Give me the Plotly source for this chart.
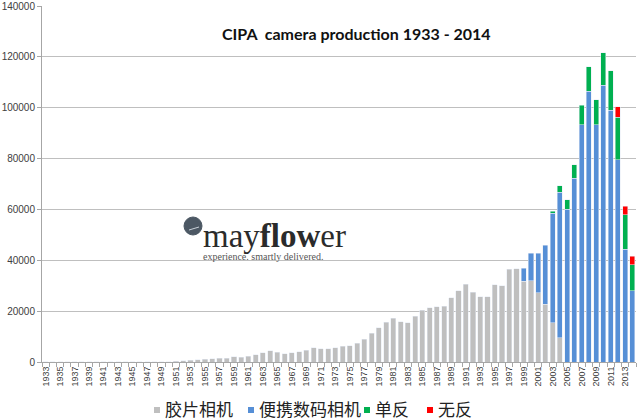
import plotly.graph_objects as go

years = list(range(1933, 2015))

film = [50, 60, 70, 80, 90, 100, 100, 90, 80, 60, 40, 20, 10, 40, 70, 100, 130, 170,
        260, 400, 650, 900, 1050, 1300, 1570, 1440, 2100, 1960, 2350, 2900, 3660, 4440,
        3800, 3270, 3660, 4100, 4650, 5700, 5200, 5200, 5550, 6190, 6320, 7350, 9030,
        11350, 13420, 15600, 17160, 15740, 15350, 18060, 20380, 21410, 21800, 21930,
        25280, 28000, 30570, 27350, 25670, 25670, 30440, 30060, 36510, 36770, 31730,
        32000, 27200, 22700, 15400, 9540, 0, 0, 0, 0, 0, 0, 0, 0, 0, 0]

compact_years = list(range(1999, 2015))
compact_vals = [5170, 10700, 15500, 23200, 43150, 57120, 60120, 72300, 93340, 106400,
                93340, 108900, 99100, 79500, 44440, 28100]

dslr_years = list(range(2003, 2015))
dslr_vals = [700, 2600, 3660, 5350, 7700, 9800, 9800, 12800, 15500, 16700, 13460, 10200]

mirrorless_years = [2012, 2013, 2014]
mirrorless_vals = [4200, 3270, 3270]

names = ["胶片相机", "便携数码相机", "单反", "无反"]
colors = ["#BFBFBF", "#568FD6", "#00B050", "#FF0000"]

tick_years = list(range(1933, 2014, 2))
y_ticks = [0, 20000, 40000, 60000, 80000, 100000, 120000, 140000]

fig = go.Figure()
fig.add_trace(go.Bar(x=years, y=film, name=names[0], marker_color=colors[0]))
fig.add_trace(go.Bar(x=compact_years, y=compact_vals, name=names[1], marker_color=colors[1]))
fig.add_trace(go.Bar(x=dslr_years, y=dslr_vals, name=names[2], marker_color=colors[2]))
fig.add_trace(go.Bar(x=mirrorless_years, y=mirrorless_vals, name=names[3], marker_color=colors[3]))

L, R, T, B = 42, 4, 6, 58
W, H = 640, 420
pw, ph = W - L - R, H - T - B

def px_x(px):
    return (px - L) / pw

def px_y(py):
    return (H - B - py) / ph

fig.update_layout(
    barmode="stack",
    bargap=0.3,
    width=W, height=H,
    margin=dict(l=L, r=R, t=T, b=B, autoexpand=False),
    paper_bgcolor="white", plot_bgcolor="white",
    font=dict(family="Liberation Sans, Arial, sans-serif", color="#404040"),
    showlegend=False,
    xaxis=dict(
        range=[1932.5, 2014.5], automargin=False,
        tickmode="array", tickvals=tick_years, ticktext=[str(y) for y in tick_years],
        tickangle=-90, tickfont=dict(size=9, color="#404040"),
        ticks="", showline=True, linecolor="#A6A6A6", linewidth=1,
        showgrid=False, zeroline=False,
        minor=dict(ticks="outside", tick0=1932.5, dtick=1, ticklen=4,
                   tickcolor="#A6A6A6", showgrid=False),
    ),
    yaxis=dict(
        range=[0, 140000.5], automargin=False,
        tickmode="array", tickvals=y_ticks, ticktext=[str(v) for v in y_ticks],
        tickfont=dict(size=10, color="#404040"),
        ticklabeloverflow="allow",
        showgrid=True, gridcolor="#BFBFBF", gridwidth=1,
        showline=True, linecolor="#A6A6A6", linewidth=1,
        ticks="outside", ticklen=4, tickcolor="#A6A6A6",
        zeroline=False,
    ),
)

# title
fig.add_annotation(text="<b>CIPA  camera production 1933 - 2014</b>",
                   xref="paper", yref="paper", x=px_x(356), y=px_y(33),
                   xanchor="center", yanchor="middle", showarrow=False,
                   font=dict(size=16, family="Lato, Open Sans, sans-serif", color="#111"))

# manual legend (squares + labels) built from trace names/colours
legend_sq_x = [157, 251, 367, 430]
for name, col, sx in zip(names, colors, legend_sq_x):
    fig.add_shape(type="rect", xref="paper", yref="paper",
                  x0=px_x(sx - 3), x1=px_x(sx + 3), y0=px_y(413), y1=px_y(407),
                  fillcolor=col, line=dict(width=0))
    fig.add_annotation(text=name, xref="paper", yref="paper",
                       x=px_x(sx + 6), y=px_y(408), xanchor="left", yanchor="middle",
                       showarrow=False,
                       font=dict(size=17, family="Noto Sans CJK SC", color="#222"))

# watermark logo
fig.add_shape(type="circle", xref="paper", yref="paper",
              x0=px_x(184), x1=px_x(202), y0=px_y(235), y1=px_y(217),
              fillcolor="#4C5864", line=dict(color="#4C5864", width=1))
fig.add_shape(type="line", xref="paper", yref="paper",
              x0=px_x(189), x1=px_x(199), y0=px_y(230), y1=px_y(227),
              line=dict(color="#C8D0D8", width=1))
fig.add_annotation(text="may<b>flow</b>er", xref="paper", yref="paper",
                   x=px_x(201), y=px_y(236), xanchor="left", yanchor="middle",
                   showarrow=False,
                   font=dict(size=33, family="Liberation Serif, serif", color="#2B2B2B"))
fig.add_annotation(text="experience. smartly delivered.", xref="paper", yref="paper",
                   x=px_x(201), y=px_y(256), xanchor="left", yanchor="middle",
                   showarrow=False,
                   font=dict(size=10, family="Liberation Serif, serif", color="#555"))

fig.write_html("out.html")
